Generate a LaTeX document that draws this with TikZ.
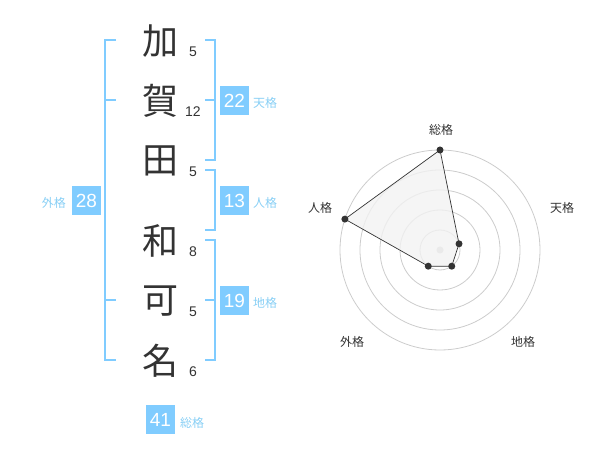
\documentclass[tikz,border=0pt]{standalone}
\usepackage{fontspec}
\usetikzlibrary{calc}
\newfontfamily\cjk{Noto Sans CJK JP}
\newfontfamily\lat{Liberation Sans}
\definecolor{bl}{HTML}{80CCFF}
\definecolor{lbl}{HTML}{88CFF5}
\definecolor{dk}{HTML}{333333}
\definecolor{ring}{HTML}{CCCCCC}
\definecolor{fillg}{HTML}{F2F2F2}
\begin{document}
\begin{tikzpicture}[x=1pt,y=-1pt,
  bigch/.style={font=\cjk\fontsize{36}{36}\selectfont,text=dk,inner sep=0pt},
  strk/.style={font=\lat\fontsize{14}{14}\selectfont,text=dk,inner sep=0pt},
  brk/.style={draw=bl,line width=2pt},
  numbox/.style={fill=bl,text=white,minimum width=29pt,minimum height=29pt,inner sep=0pt,font=\lat\fontsize{19}{19}\selectfont},
  kaku/.style={font=\cjk\fontsize{12}{12}\selectfont,text=lbl,inner sep=0pt},
  axl/.style={font=\cjk\fontsize{12}{12}\selectfont,text=dk,inner sep=0pt},
  dot/.style={circle,fill=dk,inner sep=0pt,minimum size=7pt}]
\useasboundingbox (0,0) rectangle (600,470);
% characters
\node[bigch] (c1) at (160,41) {加};
\node[bigch] (c2) at (160,101) {賀};
\node[bigch] (c3) at (160,161) {田};
\node[bigch] (c4) at (160,241) {和};
\node[bigch] (c5) at (160,301) {可};
\node[bigch] (c6) at (160,361) {名};
% stroke counts
\node[strk] (s1) at (193,52) {5};
\node[strk] (s2) at (193,112) {12};
\node[strk] (s3) at (193,172) {5};
\node[strk] (s4) at (193,252) {8};
\node[strk] (s5) at (193,312) {5};
\node[strk] (s6) at (193,372) {6};
% left bracket (gaikaku)
\draw[brk] (116,40) -- (105,40) -- (105,360) -- (116,360);
\draw[brk] (105,100) -- (116,100);
\draw[brk] (105,300) -- (116,300);
% right brackets
\draw[brk] (205,40) -- (215,40) -- (215,160) -- (205,160);
\draw[brk] (205,100) -- (215,100);
\draw[brk] (205,170) -- (215,170) -- (215,230) -- (205,230);
\draw[brk] (205,240) -- (215,240) -- (215,360) -- (205,360);
\draw[brk] (205,300) -- (215,300);
% boxes
\node[numbox] (b22) at (234.5,100.5) {22};
\node[kaku,anchor=west] (k22) at (253,103) {天格};
\node[numbox] (b13) at (234.5,200.5) {13};
\node[kaku,anchor=west] (k13) at (253,203) {人格};
\node[numbox] (b19) at (234.5,300.5) {19};
\node[kaku,anchor=west] (k19) at (253,303) {地格};
\node[numbox] (b28) at (86.5,200.5) {28};
\node[kaku,anchor=east] (k28) at (66,203) {外格};
\node[numbox] (b41) at (160.5,419.5) {41};
\node[kaku,anchor=west] (k41) at (180,423) {総格};
% radar
\coordinate (O) at (440,250);
\foreach \r in {20,40,60,80,100} \draw[ring,line width=0.8pt] (O) circle[radius=\r];
\fill[ring] (O) circle[radius=3.5];
\coordinate (p1) at ($(O)+(0,-100)$);
\coordinate (p2) at ($(O)+({20*cos(18)},{-20*sin(18)})$);
\coordinate (p3) at ($(O)+({20*cos(54)},{20*sin(54)})$);
\coordinate (p4) at ($(O)+({-20*cos(54)},{20*sin(54)})$);
\coordinate (p5) at ($(O)+({-100*cos(18)},{-100*sin(18)})$);
\filldraw[fill=fillg,fill opacity=0.8,draw=dk,line width=0.7pt] (p1) -- (p2) -- (p3) -- (p4) -- (p5) -- cycle;
\foreach \p in {p1,p2,p3,p4,p5} \node[dot] at (\p) {};
\node[axl] (a1) at (441,130) {総格};
\node[axl] (a2) at (562,208) {天格};
\node[axl] (a3) at (523,342) {地格};
\node[axl] (a4) at (352,342) {外格};
\node[axl] (a5) at (320,208) {人格};
\end{tikzpicture}
\end{document}
